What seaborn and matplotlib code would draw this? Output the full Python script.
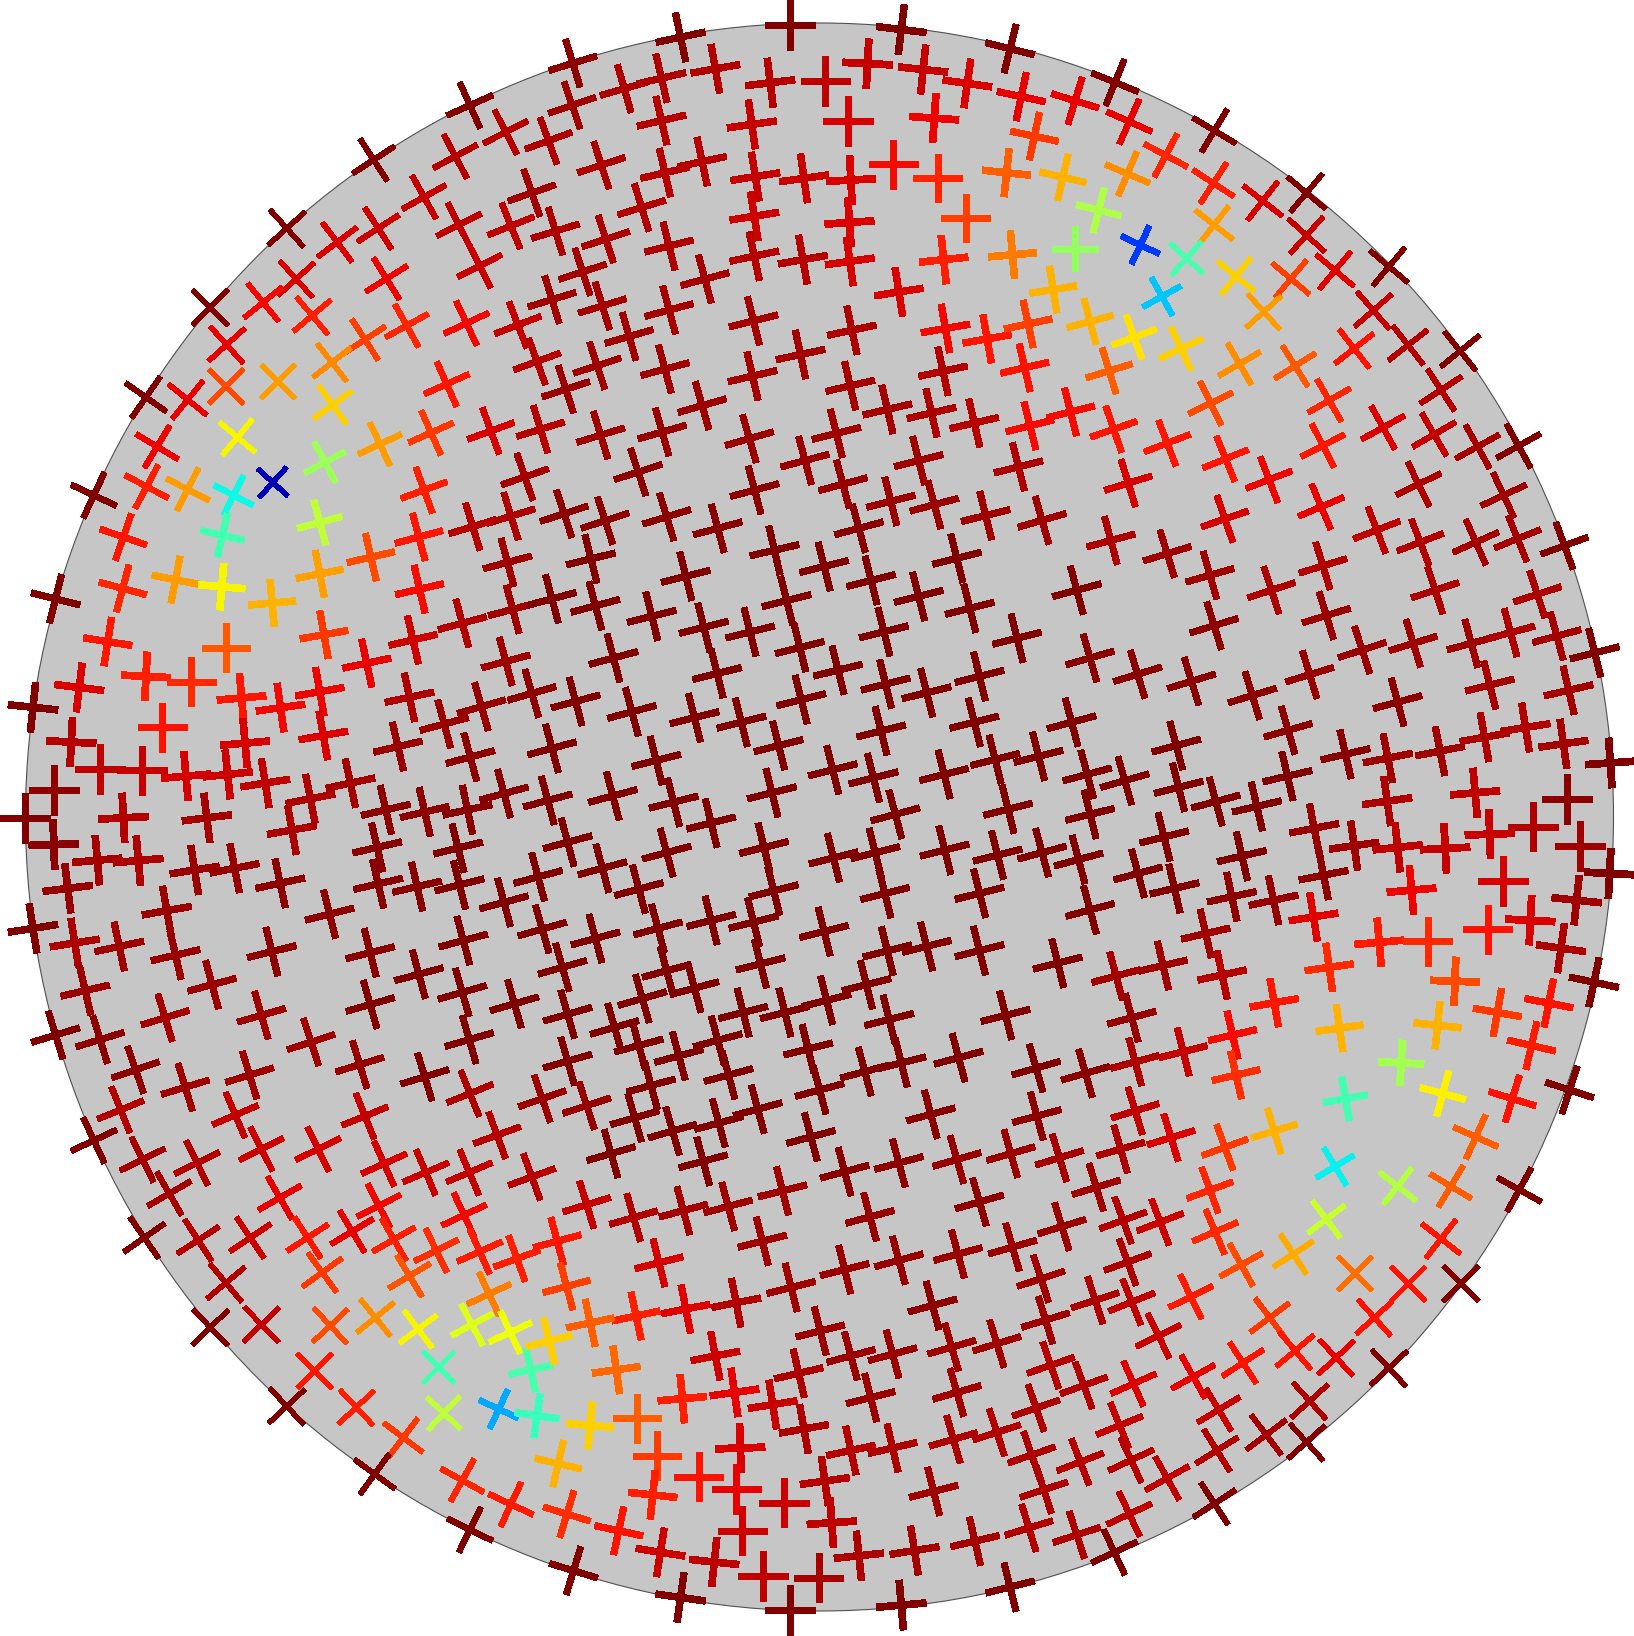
"""Field of oriented crosses on a disc, coloured with jet."""
import matplotlib as mpl
import matplotlib.pyplot as plt
import numpy as np
import pandas as pd
import seaborn as sns
from matplotlib.markers import MarkerStyle
from matplotlib.patches import Circle
from matplotlib.transforms import Affine2D

# Crosses were read sector by sector (3x3 grid of the picture), in reading units.
READ_SCALE = 545 / 1568

nw_x = [1352, 1075, 825, 605, 420, 270, 1455, 1310, 1220, 1088,
        970, 1320, 1380, 1470, 1530, 1112, 852, 757, 898, 652,
        1170, 1342, 1490, 1050, 955, 800, 651, 540, 957, 1285,
        1545, 683, 1093, 1240, 1412, 1555, 452, 935, 785, 672,
        540, 422, 1220, 1510, 1470, 1360, 640, 920, 355, 1205]
nw_y = [303, 460, 657, 885, 1143, 1425, 380, 450, 567, 657,
        697, 647, 765, 650, 555, 802, 803, 870, 908, 992,
        937, 930, 935, 977, 1043, 1098, 1112, 1150, 1165, 1105,
        1040, 1258, 1278, 1245, 1240, 1235, 1285, 1330, 1388, 1425,
        1408, 1400, 1410, 1372, 1485, 1515, 1540, 1503, 1545, 1545]
nw_ang = [24, 33, 42, 45, -35, -25, 27, 28, 29, 33,
          37, 27, 27, 22, 19, 32, 42, 39, 40, 42,
          29, 25, 21, 33, 38, 45, 45, -39, 36, 24,
          20, -40, 25, 24, 20, 17, -31, 28, -42, -27,
          -27, -28, 20, 19, 17, 17, -13, 15, -19, 15]
nw_val = [1.0, 1.0, 1.0, 1.0, 1.0, 1.0, .95, .95, .94, .93,
          .92, .945, .935, .945, .97, .905, .92, .9, .875, .91,
          .87, .9, .94, .84, .765, .745, .83, .91, .69, .885,
          .95, .65, .745, .85, .925, .95, .905, .54, .05, .37,
          .745, .875, .875, .965, .96, .95, .43, .58, .885, .885]

n_x = [80, 390, 705, 1025, 1338, 78, 228, 335, 490, 648,
       807, 928, 1088, 1215, 1370, 1525, 335, 595, 872, 1120,
       1408, 10, 162, 345, 452, 605, 745, 880, 1002, 1130,
       1328, 1490, 278, 602, 876, 1210, 30, 175, 357, 602,
       742, 877, 1147, 1345, 1525, 108, 460, 1018, 1462, 20,
       165, 357, 600, 883, 1152, 1272, 1390, 242, 735, 345,
       150, 597, 1145, 1380, 878, 60, 452, 985, 1112, 1235,
       1512, 1395, 160, 337, 588, 838, 1075, 1362, 748, 268,
       857, 603, 995, 1120, 1268, 1430, 55, 173, 350, 497,
       903]
n_y = [182, 107, 72, 85, 140, 303, 255, 225, 198, 238,
       233, 183, 200, 240, 278, 290, 347, 358, 348, 340,
       392, 405, 475, 497, 465, 508, 513, 518, 472, 512,
       497, 510, 597, 622, 640, 627, 665, 688, 708, 737,
       747, 752, 747, 733, 715, 782, 803, 840, 833, 862,
       880, 892, 923, 950, 945, 975, 932, 968, 1020, 1062,
       1052, 1082, 1068, 1058, 1110, 1120, 1167, 1178, 1188, 1217,
       1185, 1225, 1252, 1243, 1262, 1247, 1325, 1343, 1325, 1358,
       1393, 1410, 1442, 1452, 1483, 1497, 1478, 1498, 1487, 1520,
       1520]
n_ang = [17, 12, 0, -7, -14, 19, 16, 13, 10, 7,
         0, -3, -6, -8, -12, -17, 13, 8, 0, -4,
         -12, 20, 18, 13, 12, 9, 8, 3, 0, 0,
         -6, -13, 17, 9, 4, 0, 17, 18, 14, 12,
         10, 8, 6, 5, 0, 18, 15, 9, 9, 17,
         17, 15, 14, 12, 10, 10, 12, 16, 12, 15,
         18, 13, 12, 13, 13, 18, 16, 13, 13, 13,
         14, 14, 17, 16, 16, 14, 14, 14, 15, 18,
         15, 15, 14, 15, 14, 16, 18, 18, 17, 15,
         15]
n_val = [.985, 1.0, 1.0, 1.0, 1.0, .97, .96, .96, .955, .95,
         .945, .94, .94, .92, .91, .91, .95, .94, .925, .905,
         .85, .96, .96, .95, .95, .94, .935, .92, .895, .87,
         .81, .72, .955, .93, .92, .84, .96, .96, .96, .95,
         .95, .925, .875, .78, .53, .965, .965, .92, .72, .97,
         .965, .965, .965, .96, .90, .885, .84, .97, .965, .97,
         .97, .965, .955, .89, .965, .975, .975, .965, .96, .95,
         .895, .895, .97, .98, .975, .97, .97, .96, .975, .985,
         .98, .985, .975, .975, .97, .97, .985, .985, .985, .99,
         .99]

ne_x = [72, 113, 218, 358, 108, 355, 497, 623, 25, 357,
        623, 145, 278, 705, 860, 420, 578, 207, 500, 815,
        915, 1065, 127, 262, 0, 760, 55, 430, 590, 1010,
        347, 688, 68, 843, 990, 222, 1115, 1233, 670, 390,
        110, 515, 945, 1190, 665, 388, 825, 60, 950, 1110,
        1230, 1365]
ne_y = [237, 350, 447, 376, 500, 527, 578, 555, 605, 647,
        677, 705, 743, 778, 767, 795, 802, 853, 897, 893,
        993, 1010, 970, 1003, 925, 1003, 1067, 1047, 1053, 1122,
        1160, 1152, 1235, 1230, 1250, 1275, 1285, 1283, 1282, 1320,
        1390, 1380, 1393, 1425, 1458, 1493, 1525, 1555, 1560, 1560,
        1550, 1570]
ne_ang = [-22, -24, -28, -31, -23, -33, -38, -40, -14, -38,
          -42, -25, -42, -40, -40, -39, -40, 29, 42, 41,
          38, 39, 20, 25, 15, 38, 17, 30, 32, 33,
          26, 30, 19, 29, 30, 21, 29, 29, 27, 22,
          17, 21, 26, 25, 23, 19, 21, 15, 21, 24,
          22, 20]
ne_val = [1.0, .91, .87, 1.0, .76, .875, .925, 1.0, .56, .745,
          .935, .18, .44, .915, 1.0, .69, .84, .32, .745, .94,
          .955, 1.0, .67, .69, .72, .89, .81, .76, .815, .955,
          .83, .87, .885, .92, .94, .885, .965, 1.0, .885, .885,
          .925, .905, .96, .97, .91, .925, .945, .96, .955, .965,
          .965, 1.0]

w_x = [160, 353, 505, 638, 920, 783, 1067, 1207, 310, 650,
       932, 1188, 1330, 1475, 1460, 1055, 1455, 228, 420, 550,
       695, 807, 920, 1178, 1385, 1530, 95, 467, 1278, 205,
       705, 930, 1145, 1353, 288, 408, 535, 655, 763, 1008,
       893, 155, 72, 155, 355, 595, 840, 1110, 1222, 1345,
       1450, 1085, 1318, 280, 398, 560, 675, 806, 1088, 1200,
       1322, 195, 480, 948, 1450, 1548, 95, 215, 343, 505,
       782, 1065, 1333, 1560, 245, 610, 1205, 1330, 1065, 475,
       752, 1480, 160, 288, 1350, 895, 390, 1035, 718, 533,
       1222]
w_y = [155, 125, 100, 120, 83, 167, 35, 127, 278, 295,
       258, 273, 225, 185, 50, 340, 335, 410, 378, 393,
       440, 468, 422, 438, 465, 427, 467, 525, 515, 567,
       570, 548, 580, 610, 645, 648, 665, 660, 685, 685,
       730, 705, 785, 862, 785, 785, 820, 762, 768, 762,
       715, 870, 872, 907, 908, 935, 930, 973, 975, 983,
       978, 988, 1052, 1062, 1028, 955, 1103, 1145, 1155, 1180,
       1170, 1173, 1138, 1105, 1282, 1265, 1235, 1287, 1322, 1360,
       1353, 1320, 1410, 1423, 1423, 1430, 1510, 1495, 1525, 1560,
       1530]
w_ang = [-14, -15, -11, -5, 11, 5, 13, 13, -9, 0,
         10, 13, 15, 15, 15, 12, 15, -7, -3, 0,
         5, 8, 10, 12, 16, 16, -6, 0, 15, -3,
         5, 10, 13, 15, 0, 0, 5, 6, 9, 12,
         11, 0, 0, 2, 3, 7, 10, 13, 13, 12,
         15, 13, 14, 5, 5, 9, 11, 12, 13, 13,
         14, 7, 10, 14, 15, 15, 9, 9, 12, 13,
         14, 14, 15, 16, 13, 15, 15, 16, 16, 17,
         16, 16, 17, 17, 16, 18, 19, 17, 17, 17,
         17]
w_val = [1.0, .87, .745, .65, .74, .72, .83, .895, .885, .815,
         .85, .93, .955, .97, .97, .91, .97, .92, .875, .865,
         .885, .9, .905, .96, .98, .985, 1.0, .89, .975, .95,
         .925, .92, .975, .985, .945, .94, .925, .93, .945, .965,
         .96, .985, 1.0, .99, .955, .965, .96, .985, .985, .99,
         .99, .99, 1.0, .965, .96, .975, .98, .985, .99, .99,
         1.0, .98, .975, .985, 1.0, 1.0, 1.0, .96, .97, .975,
         .985, .99, 1.0, 1.0, .975, .975, 1.0, 1.0, 1.0, .965,
         .97, 1.0, 1.0, .985, 1.0, .97, .985, .98, .97, .97,
         1.0]

c_x = [132, 405, 660, 803, 938, 1075, 1185, 1222, 1530, 20,
       145, 307, 457, 590, 695, 733, 975, 1358, 197, 843,
       495, 980, 1098, 1250, 737, 88, 250, 430, 565, 1235,
       1515, 967, 672, 20, 320, 828, 945, 1295, 1420, 1148,
       195, 370, 653, 8, 1332, 1008, 478, 65, 630, 350,
       830, 950, 1150, 1302, 1430, 1535, 165, 270, 658, 978,
       1250, 325, 478, 600, 145, 803, 985, 1098, 1250, 1475,
       50, 620, 350, 925, 430, 280, 810, 570, 690, 990,
       65, 1325, 200, 270, 497, 757, 385, 1190, 1025, 65,
       920, 1413, 528, 305, 1555]
c_y = [40, 90, 15, 62, 102, 148, 38, 182, 130, 155,
       175, 205, 237, 250, 160, 295, 250, 268, 325, 360,
       370, 400, 425, 378, 445, 450, 480, 497, 510, 510,
       510, 535, 577, 585, 620, 647, 670, 617, 608, 660,
       722, 740, 713, 735, 760, 775, 800, 855, 870, 885,
       900, 885, 878, 892, 885, 905, 930, 990, 995, 1003,
       1002, 1103, 1080, 1085, 1132, 1112, 1168, 1155, 1167, 1203,
       1215, 1205, 1225, 1265, 1275, 1305, 1310, 1345, 1345, 1365,
       1350, 1353, 1388, 1440, 1425, 1450, 1470, 1475, 1490, 1485,
       1515, 1505, 1525, 1555, 1520]
c_ang = [14, 14, 13, 14, 14, 14, 14, 14, 15, 15,
         15, 14, 14, 14, 14, 14, 14, 14, 15, 14,
         14, 14, 14, 14, 14, 15, 15, 14, 14, 14,
         15, 14, 14, 15, 14, 14, 14, 14, 14, 14,
         15, 14, 14, 15, 14, 15, 14, 15, 14, 15,
         14, 14, 14, 14, 15, 15, 15, 15, 14, 14,
         14, 15, 14, 14, 15, 14, 14, 14, 14, 14,
         16, 14, 15, 14, 15, 16, 14, 14, 14, 14,
         16, 14, 16, 15, 15, 14, 15, 15, 14, 16,
         15, 16, 15, 15, 16]
c_val = [1.0, 1.0, 1.0, 1.0, 1.0, 1.0, 1.0, 1.0, 1.0, 1.0,
         1.0, 1.0, 1.0, 1.0, 1.0, 1.0, 1.0, 1.0, 1.0, 1.0,
         1.0, 1.0, 1.0, 1.0, 1.0, 1.0, 1.0, 1.0, 1.0, 1.0,
         1.0, 1.0, 1.0, 1.0, 1.0, 1.0, 1.0, 1.0, 1.0, 1.0,
         1.0, 1.0, 1.0, 1.0, 1.0, 1.0, 1.0, 1.0, 1.0, 1.0,
         1.0, 1.0, 1.0, 1.0, 1.0, 1.0, 1.0, 1.0, 1.0, 1.0,
         1.0, 1.0, 1.0, 1.0, 1.0, 1.0, 1.0, 1.0, 1.0, 1.0,
         1.0, 1.0, 1.0, 1.0, 1.0, 1.0, 1.0, 1.0, 1.0, 1.0,
         1.0, 1.0, 1.0, 1.0, 1.0, 1.0, 1.0, 1.0, 1.0, 1.0,
         1.0, 1.0, 1.0, 1.0, .99]

e_x = [345, 522, 670, 993, 1287, 222, 357, 680, 783, 930,
       1097, 1210, 1343, 1452, 0, 137, 292, 632, 467, 1150,
       1377, 885, 570, 1253, 248, 735, 857, 1007, 1135, 1362,
       1497, 100, 568, 255, 362, 480, 1108, 1372, 855, 645,
       1275, 760, 1150, 213, 885, 1022, 1410, 437, 138, 1495,
       243, 672, 1188, 925, 408, 528, 1400, 0, 643, 1267,
       1145, 832, 972, 333, 1355, 210, 75, 380, 688, 1050,
       1450, 530, 1320, 1172, 120, 718, 1000, 1270, 410, 268,
       130, 895, 420, -8, 0]
e_y = [87, 130, 60, 130, 142, 25, 232, 203, 302, 283,
       283, 252, 262, 310, 325, 372, 392, 373, 433, 403,
       418, 452, 533, 525, 577, 602, 613, 593, 553, 572,
       627, 678, 665, 697, 738, 752, 713, 730, 737, 815,
       810, 865, 832, 840, 870, 873, 865, 895, 945, 945,
       988, 950, 967, 993, 1012, 1022, 1022, 1050, 1070, 1080,
       1105, 1143, 1140, 1118, 1160, 1210, 1240, 1237, 1215, 1255,
       1258, 1317, 1318, 1345, 1360, 1390, 1382, 1440, 1410, 1458,
       1487, 1490, 1525, 660, 775]
e_ang = [16, 18, 17, 18, 18, 17, 17, 17, 18, 17,
         15, 15, 15, 14, 16, 17, 17, 17, 17, 14,
         13, 15, 16, 9, 15, 13, 11, 11, 10, 8,
         4, 16, 13, 14, 15, 13, 5, 0, 8, 11,
         0, 8, 2, 14, 6, 3, 0, 13, 15, -3,
         13, 11, 0, 5, 12, 12, -6, 15, 9, -3,
         0, 5, 0, 13, -8, 13, 15, 12, 8, -2,
         -12, 10, -11, -10, 15, 8, -6, -13, 13, 14,
         15, -3, 13, 15, 14]
e_val = [.97, .96, .955, .96, .96, .97, .985, .975, .975, .97,
         .97, .96, .965, 1.0, .99, .99, .99, .98, .985, .965,
         .965, .985, .985, .955, 1.0, .99, .97, .97, .96, .965,
         1.0, 1.0, 1.0, 1.0, 1.0, 1.0, .945, .985, .96, .98,
         .955, .97, .935, 1.0, .945, .94, .97, 1.0, 1.0, 1.0,
         1.0, .985, .925, .905, .985, .98, .97, 1.0, .915, .92,
         .89, .88, .865, .97, .96, .97, .965, .95, .865, .83,
         1.0, .885, .89, .85, .98, .72, .72, .88, .895, .94,
         .96, .55, .86, 1.0, 1.0]

sw_x = [270, 347, 677, 1050, 410, 567, 752, 915, 1105, 1225,
        1350, 1430, 1352, 1530, 487, 805, 1090, 1335, 415, 570,
        720, 885, 1013, 1133, 1255, 1380, 1487, 650, 927, 1178,
        1407, 605, 752, 950, 1080, 1203, 1358, 1468, 905, 1262,
        1527, 825, 1025, 1277, 1435, 1545, 1160, 1078, 1330, 1470,
        1352, 1560]
sw_y = [145, 57, 72, 75, 200, 210, 170, 170, 212, 237,
        237, 130, 10, 250, 298, 310, 333, 360, 425, 432,
        425, 425, 407, 430, 462, 465, 485, 555, 525, 535,
        587, 683, 675, 678, 655, 688, 675, 697, 808, 798,
        805, 910, 913, 930, 918, 937, 1000, 1105, 1123, 1192,
        1265, 25]
sw_ang = [25, 22, 23, 22, 26, 26, 27, 26, 24, 23,
          23, 20, 22, 20, 30, 30, 27, 25, 35, 33,
          34, 33, 31, 30, 26, 24, 20, 40, 36, 31,
          25, 44, 44, 43, 39, 37, 28, 25, 45, 45,
          12, 43, 43, -43, -25, -8, -37, -36, -29, -25,
          -26, 19]
sw_val = [1.0, .955, .94, .94, .965, .955, .93, .925, .925, .935,
          .94, .95, .96, .95, .965, .91, .9, .9, 1.0, .95,
          .93, .885, .91, .875, .86, .88, .875, .955, .85, .82,
          .775, 1.0, .94, .83, .76, .65, .62, .64, .885, .43,
          .44, 1.0, .875, .58, .29, .42, .85, 1.0, .87, .88,
          1.0, .975]

s_x = [120, 258, 367, 500, 612, 1110, 1415, 190, 765, 455,
       1185, 1340, 1480, 862, 1018, 683, 1250, 120, 255, 398,
       527, 935, 1487, 35, 625, 1345, 1188, 1018, 862, 328,
       1427, 62, 708, 550, 1115, 1440, 262, 405, 130, 792,
       1170, 880, 1000, 1300, 490, 1455, 730, 205, 1550, 545,
       937, 1185, 395, 655, 1413, 130, 265, 745, 1300, 1175,
       1000, 880, 562, 1400, 1540, 322, 38, 442, 805, 550,
       1435, 310, 1118, 688, 63, 212, 1392, 825, 568, 1530,
       1237, 1063, 903, 332, 487, 627, 787, 82, 390, 705,
       1025, 1338, 790, 12]
s_y = [45, 80, 118, 95, 55, 70, 75, 183, 135, 205,
       200, 183, 195, 235, 210, 290, 322, 330, 367, 347,
       335, 365, 393, 435, 435, 452, 472, 490, 517, 497,
       543, 565, 568, 612, 620, 662, 650, 630, 670, 693,
       740, 765, 760, 730, 765, 792, 815, 805, 850, 870,
       885, 870, 888, 905, 915, 965, 945, 975, 985, 1005,
       1030, 1037, 1030, 1050, 1070, 1052, 1075, 1112, 1125, 1148,
       1150, 1165, 1155, 1187, 1220, 1268, 1260, 1245, 1268, 1280,
       1298, 1325, 1340, 1330, 1358, 1398, 1403, 1383, 1460, 1495,
       1482, 1430, 0, 722]
s_ang = [18, 16, 16, 15, 15, 15, 15, 16, 15, 15,
         16, 16, 17, 15, 15, 14, 16, 17, 16, 15,
         15, 15, 17, 15, 14, 16, 15, 15, 14, 14,
         18, 15, 14, 11, 15, 17, 12, 11, 12, 14,
         16, 15, 15, 17, 11, 19, 13, 8, 20, 8,
         14, 16, 5, 9, 19, -5, 0, 10, 18, 16,
         13, 12, 2, 19, 21, 0, -13, 0, 8, 0,
         18, -6, 14, 0, -17, -12, 17, 4, 0, 18,
         13, 9, 6, -9, -6, 0, 0, -17, -8, 0,
         5, 14, 15, 14]
s_val = [.98, 1.0, 1.0, 1.0, 1.0, .99, .985, 1.0, 1.0, 1.0,
         .98, .975, .965, .99, .985, .97, .985, .94, .955, .965,
         .97, .98, .975, .885, .97, .975, .975, .98, .975, .925,
         .97, .84, .97, .955, .985, .97, .875, .915, .81, .975,
         .97, .975, .975, .97, .93, .95, .96, .80, .955, .91,
         .975, .97, .875, .935, .96, .69, .81, .96, .955, .96,
         .96, .95, .92, .96, .95, .845, .72, .89, .95, .91,
         .96, .875, .97, .93, .86, .89, .955, .945, .93, .96,
         .965, .965, .96, .93, .945, .945, .965, 1.0, 1.0, 1.0,
         1.0, 1.0, 1.0, .69]

se_x = [130, 735, 1015, 1215, 1380, 88, 233, 388, 530, 1110,
        705, 345, 18, 885, 1038, 1235, 95, 202, 680, 360,
        1010, 585, 108, 435, 762, 915, 1067, 15, 120, 290,
        517, 818, 197, 590, 708, 440, 860, 297, 125, 632,
        370, 85, 507, 623, 365, 118, 222, 358, 113, 70]
se_y = [60, 25, 10, 25, 0, 170, 137, 165, 118, 135,
        220, 288, 280, 277, 277, 287, 375, 380, 372, 408,
        428, 472, 495, 503, 528, 558, 557, 605, 610, 595,
        655, 655, 707, 750, 770, 785, 800, 825, 845, 895,
        920, 965, 992, 1013, 1037, 1065, 1117, 1190, 1220, 1330]
se_ang = [17, 10, -15, -17, -18, 16, 17, 20, 17, -24,
          31, 20, 17, -38, -31, -29, 20, 21, 37, 23,
          -38, 33, 20, 29, 45, 45, 45, 18, 22, 26,
          37, 42, 26, 40, 43, 33, 43, 29, 24, 42,
          31, 22, 37, 42, 32, 25, 29, 33, 25, 25]
se_val = [.945, .43, .655, .89, 1.0, .96, .92, .85, .72, .81,
          .36, .87, .97, .57, .81, 1.0, .955, .93, .59, .865,
          .885, .73, .96, .83, .79, .89, 1.0, .96, .945, .88,
          .85, .89, .935, .885, .91, .89, 1.0, .91, .92, .96,
          .935, .94, .965, 1.0, .955, .95, .945, 1.0, .945, 1.0]


def sector(x, y, ang, val, left, top):
    return pd.DataFrame(
        {
            "x": left + np.array(x) * READ_SCALE,
            "y": top + np.array(y) * READ_SCALE,
            "ang": ang,
            "val": val,
        }
    )


def main():
    crosses = pd.concat(
        [
            sector(nw_x, nw_y, nw_ang, nw_val, 0, 0),
            sector(n_x, n_y, n_ang, n_val, 545, 0),
            sector(ne_x, ne_y, ne_ang, ne_val, 1090, 0),
            sector(w_x, w_y, w_ang, w_val, 0, 545),
            sector(c_x, c_y, c_ang, c_val, 545, 545),
            sector(e_x, e_y, e_ang, e_val, 1090, 545),
            sector(sw_x, sw_y, sw_ang, sw_val, 0, 1090),
            sector(s_x, s_y, s_ang, s_val, 545, 1090),
            sector(se_x, se_y, se_ang, se_val, 1090, 1090),
        ],
        ignore_index=True,
    )

    markers = {
        a: MarkerStyle("+", transform=Affine2D().rotate_deg(a))
        for a in sorted(crosses["ang"].unique())
    }

    fig = plt.figure(figsize=(16.34, 16.36), dpi=100)
    axis = fig.add_axes([0, 0, 1, 1])
    axis.add_patch(
        Circle((819.5, 817), 794, facecolor="#c6c6c6", edgecolor="#505050", linewidth=0.8, zorder=0)
    )
    sns.scatterplot(
        data=crosses,
        x="x",
        y="y",
        hue="val",
        size="val",
        style="ang",
        palette=mpl.colormaps["jet"],
        hue_norm=(0, 1),
        sizes=(830, 1296),
        size_norm=(0, 1),
        markers=markers,
        edgecolor="face",
        linewidth=4.8,
        antialiased=False,
        clip_on=False,
        legend=False,
        ax=axis,
    )
    points = axis.collections[-1]
    points.set_capstyle("butt")
    # slanted arms are drawn thinner than upright ones in the reference
    points.set_linewidths(5.0 - 2.0 * crosses["ang"].abs().to_numpy() / 45)
    axis.set_xlim(0, 1634)
    axis.set_ylim(1636, 0)
    axis.set_axis_off()
    fig.savefig("out.png", dpi=100)


if __name__ == "__main__":
    main()
